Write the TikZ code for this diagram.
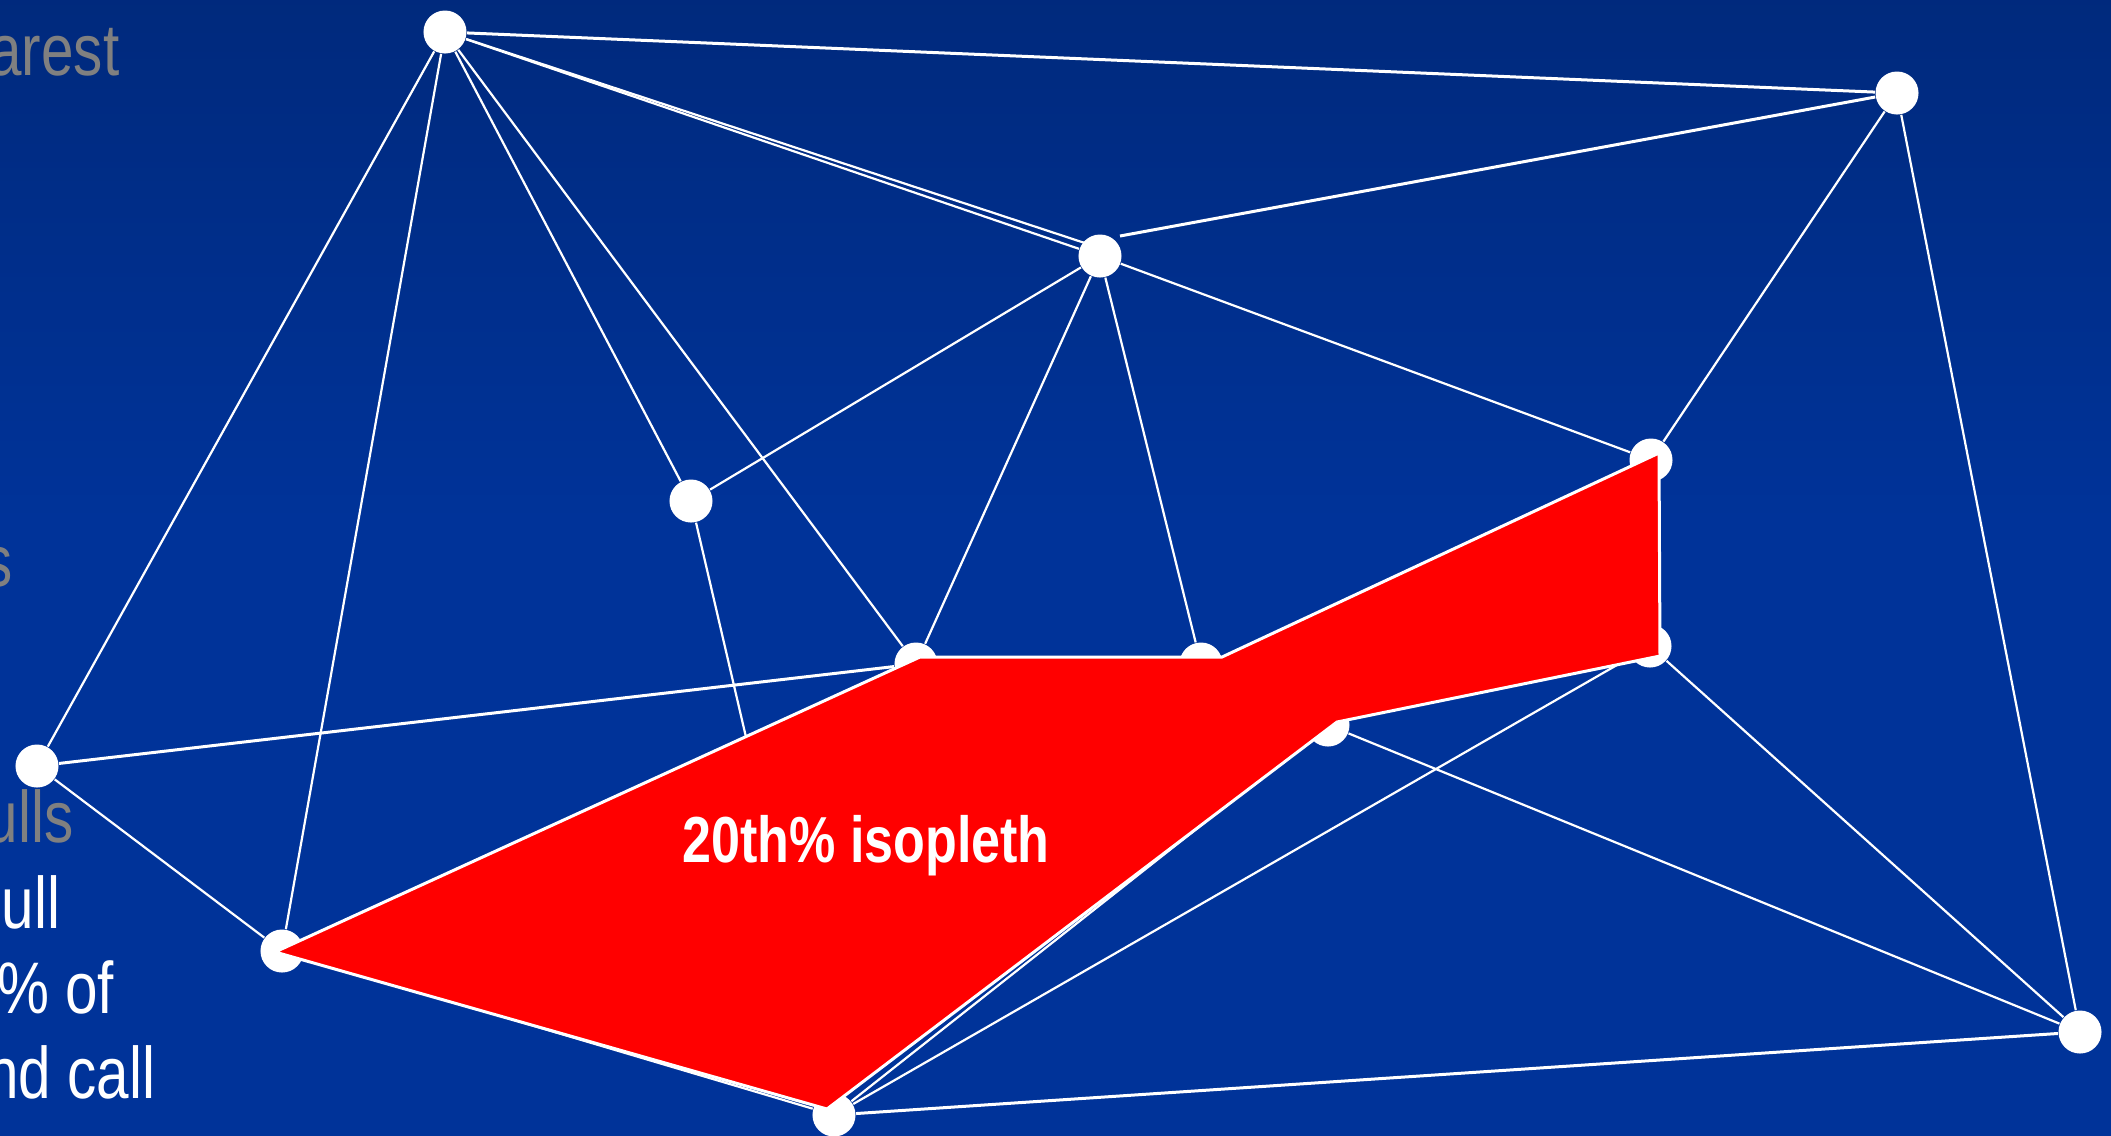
\documentclass[tikz,border=0pt]{standalone}
\usepackage{fontspec}
\setmainfont{Liberation Sans}
\newfontfamily\narrowfont[FakeStretch=0.8]{Liberation Sans}
\usetikzlibrary{calc}
\definecolor{bgtop}{RGB}{0,31,94}
\definecolor{bgblue}{RGB}{0,51,153}
\definecolor{txtgray}{RGB}{128,128,128}
\definecolor{isored}{RGB}{255,0,0}
\pgfdeclareverticalshading{bgshade}{100bp}{color(0bp)=(bgblue); color(52bp)=(bgblue); color(100bp)=(bgtop)}
\newcommand{\sldfont}{\narrowfont\fontsize{20.77pt}{24pt}\selectfont}
\tikzset{
  vtx/.style={circle, fill=white, draw=none, minimum size=0.43cm, inner sep=0pt},
  edgeline/.style={draw=white, line width=0.022cm},
  edgethick/.style={draw=white, line width=0.03cm},
  slidetext/.style={anchor=base east, inner sep=0pt, font=\sldfont},
  isofill/.style={fill=isored, draw=white, line width=0.03cm, line join=miter},
  isolabel/.style={anchor=base, inner sep=0pt, text=white, font=\narrowfont\bfseries\fontsize{18.5pt}{22pt}\selectfont}
}
\begin{document}
\begin{tikzpicture}[x=0.01cm, y=-0.01cm]
\useasboundingbox (0,0) rectangle (2111,1135);
\path[shading=bgshade] (0,0) rectangle (2111,1135);

% vertices
\node[vtx] (A) at (445,32) {};
\node[vtx] (B) at (1897,93) {};
\node[vtx] (C) at (1100,256) {};
\node[vtx] (D) at (691,501) {};
\node[vtx] (E) at (1651,460) {};
\node[vtx] (F) at (916,664) {};
\node[vtx] (G) at (1201,664) {};
\node[vtx] (H) at (1650,646) {};
\node[vtx] (I) at (1328,725) {};
\node[vtx] (J) at (37,766) {};
\node[vtx] (K) at (282,951) {};
\node[vtx] (L) at (834,1115) {};
\node[vtx] (M) at (2080,1032) {};
\coordinate (C2) at (1100,248);
\coordinate (Cb) at (1120,236);

% edges
\draw[edgethick] (A) -- (B);
\draw[edgeline] (A) -- (C);
\draw[edgeline] (A) -- (C2);
\draw[edgeline] (A) -- (J);
\draw[edgeline] (A) -- (K);
\draw[edgeline] (A) -- (D);
\draw[edgeline] (A) -- (F);
\draw[edgethick] (Cb) -- (B);
\draw[edgeline] (C) -- (D);
\draw[edgeline] (C) -- (F);
\draw[edgeline] (C) -- (G);
\draw[edgeline] (C) -- (E);
\draw[edgeline] (B) -- (E);
\draw[edgeline] (B) -- (M);
\draw[edgeline] (D) -- (L);
\draw[edgethick] (J) -- (F);
\draw[edgeline] (J) -- (K);
\draw[edgeline] (K) -- (L);
\draw[edgethick] (L) -- (M);
\draw[edgeline] (L) -- (H);
\draw[edgeline] (L) -- (I);
\draw[edgeline] (I) -- (M);
\draw[edgeline] (H) -- (M);

% 20th percentile isopleth
\path[isofill] (275,952) -- (920,657) -- (1222,657) -- (1659,453) -- (1660,656)
  -- (1337,722) -- (827,1109) -- cycle;
\node[isolabel] (iso) at (866,862) {20th\% isopleth};

% cut-off slide text at the left edge
\node[slidetext, text=txtgray] (t1) at (120,75) {arest};
\node[slidetext, text=txtgray] (t2) at (13,586) {s};
\node[slidetext, text=txtgray] (t3) at (74,842) {ulls};
\node[slidetext, text=white] (t4) at (61,928) {ull};
\node[slidetext, text=white] (t5) at (115,1013) {\% of};
\node[slidetext, text=white] (t6) at (156,1098) {nd call};
\end{tikzpicture}
\end{document}
